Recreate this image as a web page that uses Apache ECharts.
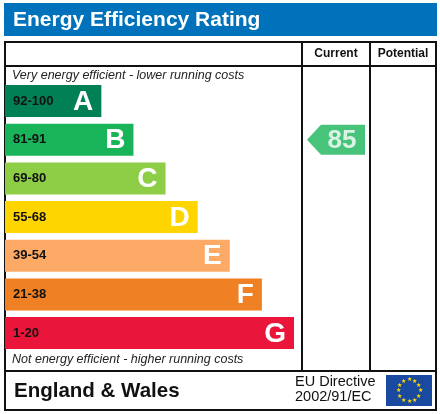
<!DOCTYPE html>
<html><head><meta charset="utf-8">
<script src="https://cdn.jsdelivr.net/npm/echarts@6/dist/echarts.min.js"></script>
<style>html,body{margin:0;padding:0;background:#fff}#c{width:440px;height:414px}</style>
</head><body><div id="c"></div>
<script>
const bands = ['A','B','C','D','E','F','G'];
const ranges = ['92-100','81-91','69-80','55-68','39-54','21-38','1-20'];
const rangeMin = [92,81,69,55,39,21,1];
const barLength = [3,4,5,6,7,8,9];
const bandColors = ['#008054','#19b459','#8dce46','#ffd500','#fcaa65','#ef8023','#e9153b'];
const currentRating = 85;
const potentialRating = null;

const FONT = 'Liberation Sans, Arial, sans-serif';
const chart = echarts.init(document.getElementById('c'));

function bandIndex(v){ for(let i=0;i<rangeMin.length;i++){ if(v>=rangeMin[i]) return i; } return rangeMin.length-1; }

const gridTop = 81.7, gridH = 270.7;
const stars = [];
for(let k=0;k<12;k++){
  const a = k*Math.PI/6;
  stars.push({type:'text', x:409+11*Math.sin(a), y:390.5-11*Math.cos(a),
    style:{text:'★', fill:'#ffdd00', font:'6px '+FONT, align:'center', verticalAlign:'middle'}});
}

const option = {
  animation:false,
  grid:[
    {left:5, top:gridTop, width:289, height:gridH},
    {left:302, top:gridTop, width:68, height:gridH}
  ],
  xAxis:[
    {gridIndex:0, type:'value', min:0, max:9, show:false},
    {gridIndex:1, type:'value', min:0, max:1, show:false}
  ],
  yAxis:[
    {gridIndex:0, type:'category', data:bands, inverse:true, show:false},
    {gridIndex:1, type:'category', data:bands, inverse:true, show:false}
  ],
  series:[
    {type:'bar', xAxisIndex:0, yAxisIndex:0, barWidth:32, silent:true,
     data: barLength.map((v,i)=>({value:v, itemStyle:{color:bandColors[i]}})),
     label:{show:true, position:'insideRight', distance:8, offset:[0,1], formatter:p=>bands[p.dataIndex],
            color:'#fff', fontFamily:FONT, fontWeight:'bold', fontSize:28}},
    {type:'bar', xAxisIndex:0, yAxisIndex:0, barWidth:32, barGap:'-100%', silent:true,
     data: barLength, itemStyle:{color:'rgba(0,0,0,0)'},
     label:{show:true, position:'insideLeft', distance:8, formatter:p=>ranges[p.dataIndex],
            color:'#111', fontFamily:FONT, fontWeight:'bold', fontSize:13}},
    {type:'scatter', xAxisIndex:1, yAxisIndex:1, silent:true,
     symbol:'path://M0,15 L14,0 L58,0 L58,30 L14,30 Z', symbolSize:[58,30], symbolKeepAspect:false,
     data:[{value:[0.5, bands[bandIndex(currentRating)]], itemStyle:{color:bandColors[bandIndex(currentRating)]}}],
     label:{show:true, position:'inside', offset:[6,1], formatter:String(currentRating), color:'#fff',
            fontFamily:FONT, fontWeight:'bold', fontSize:26}}
  ],
  graphic:[
    {type:'rect', shape:{x:4, y:3, width:433, height:33}, style:{fill:'#0072bc'}},
    {type:'text', x:13, y:20, style:{text:'Energy Efficiency Rating', fill:'#fff', font:'bold 21px '+FONT, verticalAlign:'middle'}},
    {type:'rect', shape:{x:5, y:42, width:431, height:368}, style:{fill:'none', stroke:'#111', lineWidth:2}},
    {type:'line', shape:{x1:302, y1:42, x2:302, y2:371}, style:{stroke:'#111', lineWidth:2}},
    {type:'line', shape:{x1:370, y1:42, x2:370, y2:371}, style:{stroke:'#111', lineWidth:2}},
    {type:'line', shape:{x1:5, y1:66, x2:436, y2:66}, style:{stroke:'#111', lineWidth:2}},
    {type:'line', shape:{x1:5, y1:371, x2:436, y2:371}, style:{stroke:'#111', lineWidth:2}},
    {type:'text', x:336, y:54, style:{text:'Current', fill:'#111', font:'bold 12px '+FONT, align:'center', verticalAlign:'middle'}},
    {type:'text', x:403, y:54, style:{text:'Potential', fill:'#111', font:'bold 12px '+FONT, align:'center', verticalAlign:'middle'}},
    {type:'text', x:12, y:76, style:{text:'Very energy efficient - lower running costs', fill:'#222', font:'italic 12.5px '+FONT, verticalAlign:'middle'}},
    {type:'text', x:12, y:360, style:{text:'Not energy efficient - higher running costs', fill:'#222', font:'italic 12.5px '+FONT, verticalAlign:'middle'}},
    {type:'text', x:14, y:391, style:{text:'England & Wales', fill:'#111', font:'bold 20.5px '+FONT, verticalAlign:'middle'}},
    {type:'text', x:295, y:382, style:{text:'EU Directive', fill:'#111', font:'14.5px '+FONT, verticalAlign:'middle'}},
    {type:'text', x:295, y:397, style:{text:'2002/91/EC', fill:'#111', font:'14.5px '+FONT, verticalAlign:'middle'}},
    {type:'rect', shape:{x:386, y:375, width:46, height:31}, style:{fill:'#1a4aa0'}}
  ].concat(stars)
};
chart.setOption(option);
</script></body></html>
